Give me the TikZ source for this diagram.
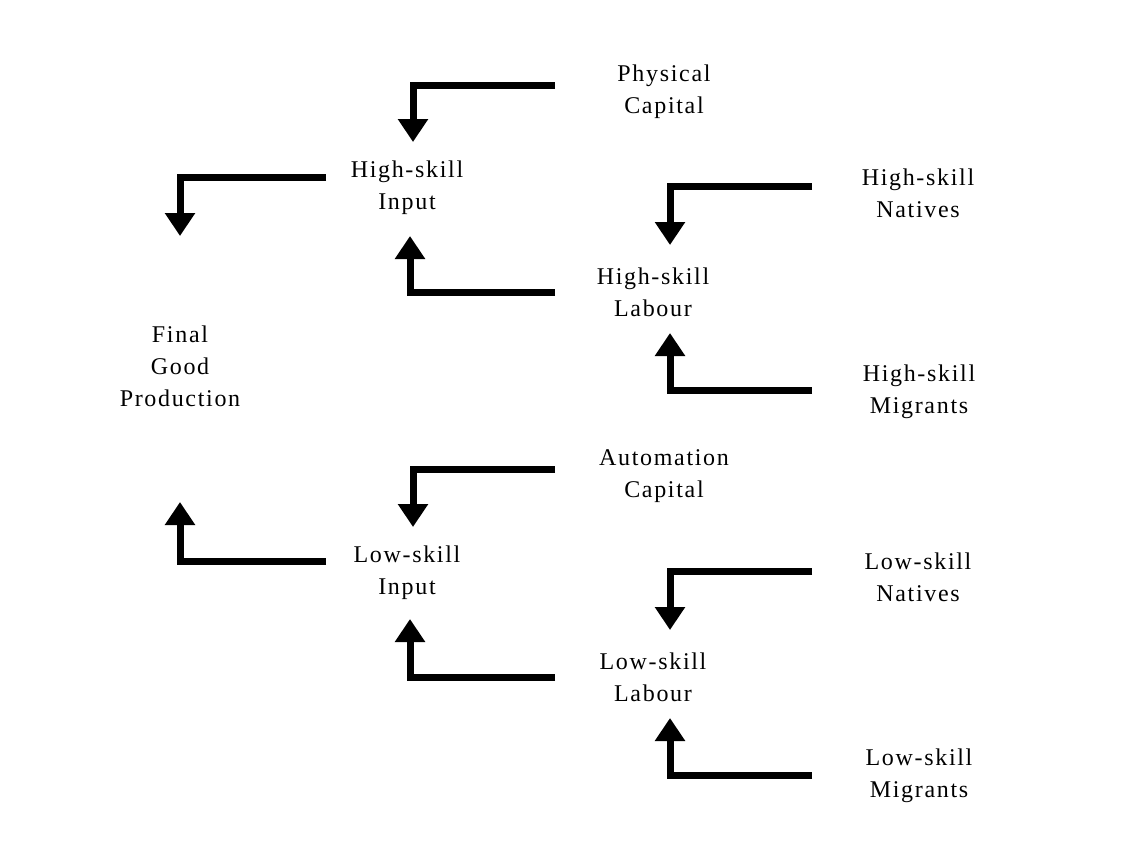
\documentclass[tikz,border=0pt]{standalone}
\usepackage{fontspec}
\setmainfont[LetterSpace=7]{Liberation Serif}
\usetikzlibrary{arrows.meta}
\tikzset{
  lbl/.style={align=center, font=\fontsize{24}{32}\selectfont, inner sep=0pt},
  flow/.style={line width=7pt, line join=miter, -{Triangle[width=29pt,length=23pt]}}
}
\begin{document}
\begin{tikzpicture}[x=1pt,y=-1pt]
\fill[white] (0,0) rectangle (1132,851);
\useasboundingbox (0,0) rectangle (1132,851);
% nodes
\node[lbl] (pc) at (664,92) {Physical\\Capital};
\node[lbl] (hi) at (407,188) {High-skill\\Input};
\node[lbl] (hn) at (918,193) {High-skill\\Natives};
\node[lbl] (hl) at (653,292) {High-skill\\Labour};
\node[lbl] (fg) at (180,366) {Final\\Good\\Production};
\node[lbl] (hm) at (919,392) {High-skill\\Migrants};
\node[lbl] (ac) at (664,476) {Automation\\Capital};
\node[lbl] (li) at (407,573) {Low-skill\\Input};
\node[lbl] (ln) at (918,577) {Low-skill\\Natives};
\node[lbl] (ll) at (653,677) {Low-skill\\Labour};
\node[lbl] (lm) at (919,776) {Low-skill\\Migrants};
% connector end points
\coordinate (pcS) at (555,85);   \coordinate (hiT) at (413,142);
\coordinate (hiS) at (326,177);  \coordinate (fgT1) at (180,236);
\coordinate (hlS) at (555,292);  \coordinate (hiB) at (410,236);
\coordinate (hnS) at (812,186);  \coordinate (hlT) at (670,245);
\coordinate (hmS) at (812,390);  \coordinate (hlB) at (670,333);
\coordinate (acS) at (555,469);  \coordinate (liT) at (413,527);
\coordinate (liS) at (326,561);  \coordinate (fgB) at (180,502);
\coordinate (llS) at (555,677);  \coordinate (liB) at (410,619);
\coordinate (lnS) at (812,571);  \coordinate (llT) at (670,630);
\coordinate (lmS) at (812,775);  \coordinate (llB) at (670,718);
% connectors
\draw[flow] (pcS) -| (hiT);
\draw[flow] (hiS) -| (fgT1);
\draw[flow] (hlS) -| (hiB);
\draw[flow] (hnS) -| (hlT);
\draw[flow] (hmS) -| (hlB);
\draw[flow] (acS) -| (liT);
\draw[flow] (liS) -| (fgB);
\draw[flow] (llS) -| (liB);
\draw[flow] (lnS) -| (llT);
\draw[flow] (lmS) -| (llB);
\end{tikzpicture}
\end{document}
